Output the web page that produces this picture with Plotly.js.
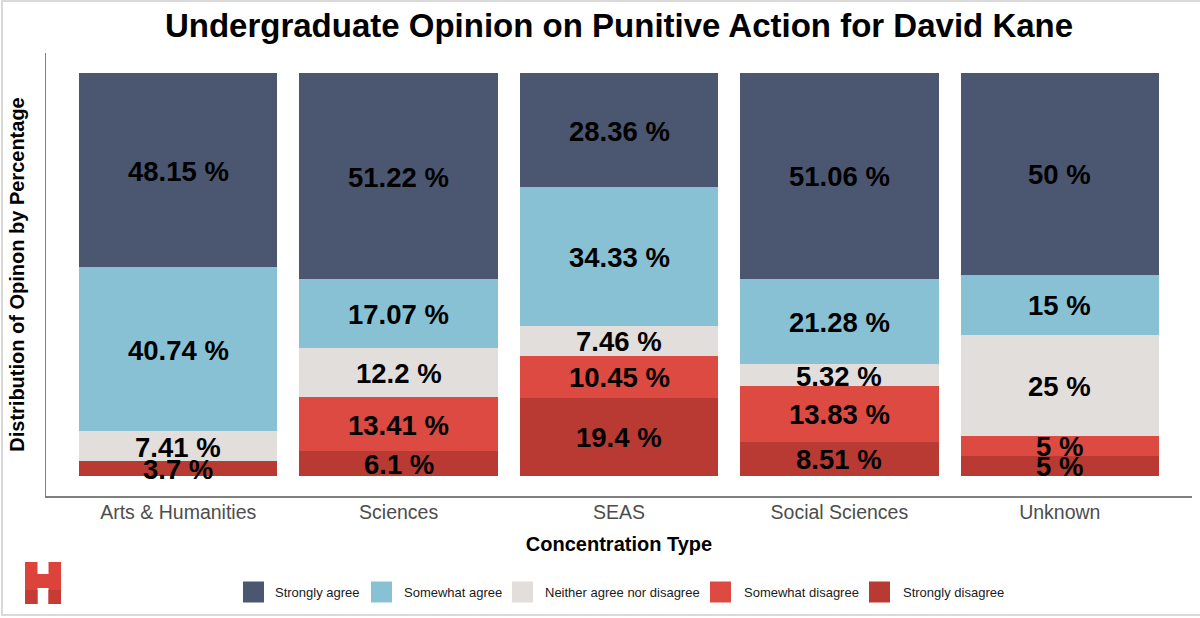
<!DOCTYPE html>
<html>
<head>
<meta charset="utf-8">
<script src="https://cdn.plot.ly/plotly-3.0.1.min.js"></script>
<style>
  html, body { margin: 0; padding: 0; background: #ffffff; }
  #wrap { position: relative; width: 1200px; height: 618px; }
  #chart { width: 1200px; height: 618px; }
  #frame { position: absolute; left: 1px; top: 0px; width: 1199px; height: 616px;
           border-top: 2px solid #d9d9d9; border-left: 2px solid #d9d9d9; border-bottom: 2px solid #d9d9d9;
           box-sizing: border-box; pointer-events: none; }
</style>
</head>
<body>
<div id="wrap"><div id="chart"></div><div id="frame"></div></div>
<script>
// ---- data ----
const categories = ['Arts & Humanities', 'Sciences', 'SEAS', 'Social Sciences', 'Unknown'];
const stronglyAgree    = [48.15, 51.22, 28.36, 51.06, 50];
const somewhatAgree    = [40.74, 17.07, 34.33, 21.28, 15];
const neitherAgree     = [7.41, 12.2, 7.46, 5.32, 25];
const somewhatDisagree = [null, 13.41, 10.45, 13.83, 5];
const stronglyDisagree = [3.7, 6.1, 19.4, 8.51, 5];
const seriesNames = ['Strongly agree', 'Somewhat agree', 'Neither agree nor disagree', 'Somewhat disagree', 'Strongly disagree'];
const seriesColors = ['#4b5770', '#88c1d3', '#e2dedc', '#dc4a42', '#b93a32'];

// stacking order bottom -> top
const stackOrder = [
  { vals: stronglyDisagree, idx: 4 },
  { vals: somewhatDisagree, idx: 3 },
  { vals: neitherAgree,     idx: 2 },
  { vals: somewhatAgree,    idx: 1 },
  { vals: stronglyAgree,    idx: 0 }
];

const FONT = 'Liberation Sans, Arial, Helvetica, sans-serif';
const traces = [];
const annotations = [];
const base = categories.map(() => 0);
stackOrder.forEach(s => {
  traces.push({
    type: 'bar', x: categories, y: s.vals.map(v => v == null ? 0 : v),
    name: seriesNames[s.idx], marker: { color: seriesColors[s.idx], line: { width: 0 } },
    showlegend: false, hoverinfo: 'skip'
  });
  s.vals.forEach((v, i) => {
    if (v != null) {
      annotations.push({
        xref: 'x', yref: 'y', x: categories[i], y: base[i] + v / 2, yshift: -1,
        text: v + ' %', showarrow: false, xanchor: 'center', yanchor: 'middle',
        font: { family: FONT, size: 27.5, color: '#000000', weight: 'bold' }
      });
      base[i] += v;
    }
  });
});

// ---- layout helpers (pixel -> paper) ----
const PL = 46, PR = 1192, PT = 53, PB = 496;
const px = x => (x - PL) / (PR - PL);
const py = y => (PB - y) / (PB - PT);

// custom legend
const legendSquareX = [243, 371, 512, 710, 869];
const legendTextX   = [273, 402, 543, 742, 901];
const legendCy = 592, sq = 21;
const shapes = [];
seriesNames.forEach((n, i) => {
  shapes.push({ type: 'rect', xref: 'paper', yref: 'paper',
    x0: px(legendSquareX[i]), x1: px(legendSquareX[i] + sq),
    y0: py(legendCy + sq / 2), y1: py(legendCy - sq / 2),
    fillcolor: seriesColors[i], line: { width: 0 } });
  annotations.push({ xref: 'paper', yref: 'paper', x: px(legendTextX[i]), y: py(legendCy),
    xanchor: 'left', yanchor: 'middle', showarrow: false, text: n,
    font: { family: FONT, size: 13, color: '#1a1a1a' } });
});

// logo "H"
const logoParts = [
  [25, 562, 37.5, 604], [48.5, 562, 61, 604], [36, 574, 50, 588]
];
logoParts.forEach(p => {
  shapes.push({ type: 'rect', xref: 'paper', yref: 'paper',
    x0: px(p[0]), x1: px(p[2]), y0: py(p[3]), y1: py(p[1]),
    fillcolor: '#dc443b', line: { width: 0 } });
});
[[25, 590, 37.5, 604], [48.5, 590, 61, 604]].forEach(p => {
  shapes.push({ type: 'rect', xref: 'paper', yref: 'paper',
    x0: px(p[0]), x1: px(p[2]), y0: py(p[3]), y1: py(p[1]),
    fillcolor: '#c63b33', line: { width: 0 } });
});

const layout = {
  width: 1200, height: 618,
  margin: { l: PL, r: 1200 - PR, t: PT, b: 618 - PB, pad: 0 },
  paper_bgcolor: '#ffffff', plot_bgcolor: '#ffffff',
  barmode: 'stack', bargap: 0.1,
  title: { text: 'Undergraduate Opinion on Punitive Action for David Kane',
    font: { family: FONT, size: 33, color: '#000000', weight: 'bold' },
    x: 0.5, xref: 'paper', xanchor: 'center', y: 1 - 25 / 618, yref: 'container', yanchor: 'middle' },
  xaxis: {
    type: 'category', range: [-0.6, 4.6], fixedrange: true,
    showline: true, linecolor: '#808080', linewidth: 1.5, ticks: '', showgrid: false, zeroline: false,
    tickfont: { family: FONT, size: 19.5, color: '#4d4d4d' }, ticklabelstandoff: -2,
    title: { text: 'Concentration Type', standoff: 15,
      font: { family: FONT, size: 20, color: '#000000', weight: 'bold' } }
  },
  yaxis: {
    range: [-5, 105], fixedrange: true, showticklabels: false, ticks: '',
    showline: true, linecolor: '#808080', linewidth: 1.5, showgrid: false, zeroline: false,
    title: { text: 'Distribution of Opinon by Percentage', standoff: 14,
      font: { family: FONT, size: 20, color: '#000000', weight: 'bold' } }
  },
  shapes: shapes, annotations: annotations, showlegend: false
};

Plotly.newPlot('chart', traces, layout, { displayModeBar: false, staticPlot: true });
</script>
</body>
</html>
